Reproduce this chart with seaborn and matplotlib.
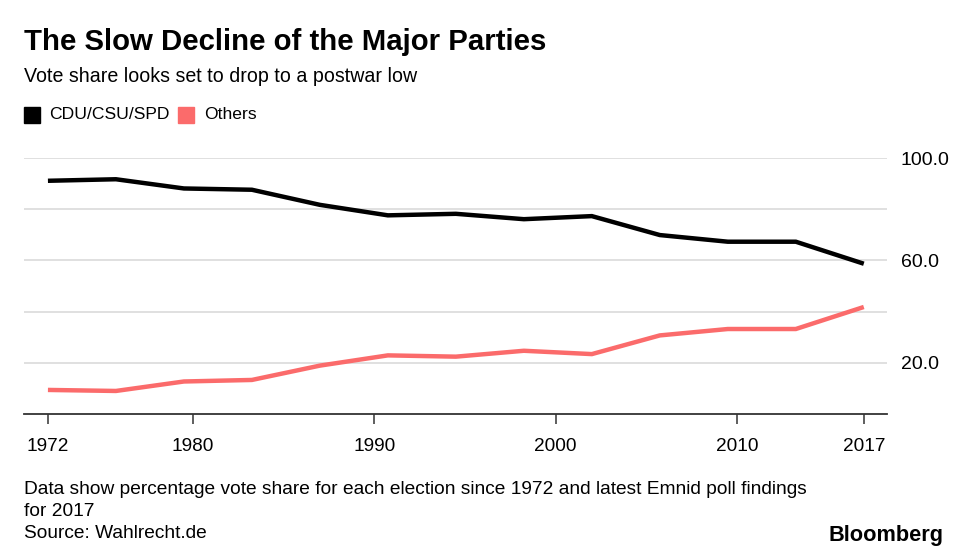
import pandas as pd
import seaborn as sns
import matplotlib.pyplot as plt
from matplotlib.patches import Rectangle

# election points (evenly spaced in the original graphic)
years = [1972, 1975.75, 1979.5, 1983.25, 1987, 1990.75, 1994.5,
         1998.25, 2002, 2005.75, 2009.5, 2013.25, 2017]
major = [91.1, 91.7, 88.1, 87.6, 81.7, 77.6, 78.2,
         76.1, 77.3, 69.9, 67.3, 67.3, 58.7]
others = [9.4, 9.0, 12.7, 13.3, 18.9, 22.9, 22.4,
          24.7, 23.4, 30.7, 33.2, 33.2, 41.8]
series_names = ['CDU/CSU/SPD', 'Others']
colors = ['#000000', '#fb6b6b']
xticks = [1972, 1980, 1990, 2000, 2010, 2017]
yticks = [20, 40, 60, 80, 100]
ylabels = ['20.0', '', '60.0', '', '100.0']

df = pd.DataFrame({
    'year': years * 2,
    'share': major + others,
    'series': [series_names[0]] * len(years) + [series_names[1]] * len(years),
})

sns.set_style('white')
plt.rcParams['font.family'] = ['Liberation Sans', 'DejaVu Sans']
plt.rcParams['text.color'] = '#000000'

fig = plt.figure(figsize=(9.77, 5.6), dpi=100)
ax = fig.add_axes([24 / 977, 1 - 414 / 560, 863 / 977, 256 / 560])

sns.lineplot(data=df, x='year', y='share', hue='series', palette=colors,
             linewidth=3.2, ax=ax, legend=False)
for ln in ax.lines:
    ln.set_solid_joinstyle('miter')
    ln.set_solid_capstyle('butt')

ax.set_xlim(1970.68, 2018.28)
ax.set_ylim(0, 100)
for y in yticks:
    ax.axhline(y, color='#dddddd', lw=1.3, zorder=0)

for s in ['top', 'left', 'right']:
    ax.spines[s].set_visible(False)
ax.spines['bottom'].set_color('#333333')
ax.spines['bottom'].set_linewidth(1.3)

ax.yaxis.tick_right()
ax.set_yticks(yticks)
ax.set_yticklabels(ylabels)
ax.tick_params(axis='y', length=0, pad=10, labelsize=14, labelcolor='#000000')
ax.set_xticks(xticks)
ax.set_xticklabels([str(x) for x in xticks])
ax.tick_params(axis='x', direction='out', length=7, width=1.1, color='#333333',
               pad=10, labelsize=13.7, labelcolor='#000000', bottom=True)
ax.set_xlabel('')
ax.set_ylabel('')

fig.text(24 / 977, 1 - 42 / 560, 'The Slow Decline of the Major Parties',
         fontsize=21.2, fontweight='bold', va='center', ha='left')
fig.text(24 / 977, 1 - 76 / 560, 'Vote share looks set to drop to a postwar low',
         fontsize=14.1, va='center', ha='left')

# legend
fig.patches.append(Rectangle((24 / 977, 1 - 123 / 560), 16 / 977, 16 / 560,
                             transform=fig.transFigure, color=colors[0]))
fig.text(49 / 977, 1 - 115 / 560, series_names[0], fontsize=12.6, va='center', ha='left')
fig.patches.append(Rectangle((178 / 977, 1 - 123 / 560), 16 / 977, 16 / 560,
                             transform=fig.transFigure, color=colors[1]))
fig.text(204 / 977, 1 - 115 / 560, series_names[1], fontsize=12.6, va='center', ha='left')

fig.text(24 / 977, 1 - 489 / 560,
         'Data show percentage vote share for each election since 1972 and latest Emnid poll findings',
         fontsize=13.8, va='center', ha='left')
fig.text(24 / 977, 1 - 511 / 560, 'for 2017', fontsize=13.8, va='center', ha='left')
fig.text(24 / 977, 1 - 533 / 560, 'Source: Wahlrecht.de', fontsize=13.8, va='center', ha='left')
fig.text(943 / 977, 1 - 536 / 560, 'Bloomberg', fontsize=15.7, fontweight='bold',
         va='center', ha='right')

fig.savefig('out.png', dpi=100)
